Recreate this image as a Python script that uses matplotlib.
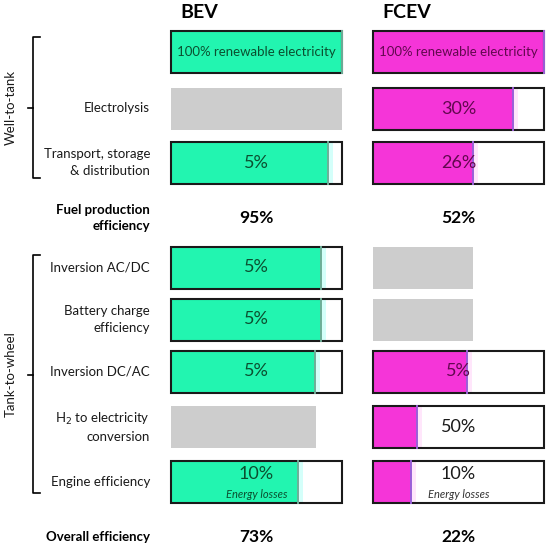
import matplotlib
matplotlib.use("Agg")
import matplotlib.pyplot as plt
from matplotlib.patches import Rectangle

plt.rcParams['font.family'] = ['Lato', 'DejaVu Sans']

# process steps, top to bottom
steps = ["", "Electrolysis", "Transport, storage\n& distribution",
         "Inversion AC/DC", "Battery charge\nefficiency", "Inversion DC/AC",
         "H$_2$ to electricity\nconversion", "Engine efficiency"]

# share of the energy left after each step (as drawn)
bev_left = [1.00, 1.00, 0.92, 0.88, 0.88, 0.845, 0.85, 0.745]
fcev_left = [1.00, 0.82, 0.585, 0.585, 0.585, 0.55, 0.257, 0.224]

# does the step apply to the vehicle
bev_used = [True, False, True, True, True, True, False, True]
fcev_used = [True, True, True, False, False, True, True, True]

# losses written in the boxes
bev_loss = ["100% renewable electricity", "", "5%", "5%", "5%", "5%", "", "10%"]
fcev_loss = ["100% renewable electricity", "30%", "26%", "", "", "5%", "50%", "10%"]

summary_labels = ["Fuel production\nefficiency", "Overall efficiency"]
bev_summary = ["95%", "73%"]
fcev_summary = ["52%", "22%"]

groups = ["Well-to-tank", "Tank-to-wheel"]
vehicles = ["BEV", "FCEV"]

# layout (pixels)
W, H = 550, 549
row_y = [52, 108.5, 162.5, 267.5, 319.5, 371.5, 427, 482]
summary_y = [218, 537]
box_h = 42
cols = [171, 373]
box_w = 171
green = "#22f5b0"
magenta = "#f535d8"
gray = "#cdcdcd"

fig = plt.figure(figsize=(W / 100, H / 100), dpi=100)
ax = fig.add_axes([0, 0, 1, 1])
ax.set_xlim(0, W)
ax.set_ylim(H, 0)
ax.axis('off')


def draw_column(x0, left, used, loss, fill, text_col, glow, edge):
    for i in range(len(steps)):
        y0 = row_y[i] - box_h / 2
        if not used[i]:
            # step not part of this chain: grey block at the previous level
            ax.add_patch(Rectangle((x0, y0), box_w * left[i], box_h,
                                   facecolor=gray, edgecolor='none'))
            continue
        ax.add_patch(Rectangle((x0, y0), box_w, box_h, facecolor='white',
                               edgecolor='none'))
        fw = box_w * left[i]
        if left[i] < 1:
            ax.add_patch(Rectangle((x0 + fw, y0), 5, box_h, facecolor=glow,
                                   edgecolor='none'))
        ax.add_patch(Rectangle((x0, y0), fw, box_h, facecolor=fill,
                               edgecolor='none'))
        ax.plot([x0 + fw, x0 + fw], [y0, y0 + box_h], color=edge, lw=1.4)
        ax.add_patch(Rectangle((x0, y0), box_w, box_h, facecolor='none',
                               edgecolor='#1a1a1a', lw=1.5))
        cx = x0 + box_w / 2
        inside = (cx < x0 + fw)
        col = text_col if inside else '#1a1a1a'
        if i == 0:
            ax.text(cx, row_y[i], loss[i], ha='center', va='center',
                    fontsize=9.5, color=text_col)
        elif i == len(steps) - 1:
            ax.text(cx, row_y[i] - 8, loss[i], ha='center', va='center',
                    fontsize=13, color=col)
            ax.text(cx, row_y[i] + 12, "Energy losses", ha='center',
                    va='center', fontsize=8, style='italic',
                    color=text_col if cx - 40 < x0 + fw else '#333333')
        else:
            ax.text(cx, row_y[i], loss[i], ha='center', va='center',
                    fontsize=13, color=col)


draw_column(cols[0], bev_left, bev_used, bev_loss, green, '#0b4f30',
            '#d4fffa', '#6fae98')
draw_column(cols[1], fcev_left, fcev_used, fcev_loss, magenta, '#62084f',
            '#ffe6fb', '#9a60d8')

# step labels
for i, s in enumerate(steps):
    if s:
        ax.text(150, row_y[i], s, ha='right', va='center', fontsize=9.5,
                color='#1a1a1a', linespacing=1.45)

# summary lines
for j, s in enumerate(summary_labels):
    ax.text(150, summary_y[j], s, ha='right', va='center', fontsize=9.5,
            fontweight='bold', color='black', linespacing=1.4)
    ax.text(cols[0] + box_w / 2, summary_y[j], bev_summary[j], ha='center',
            va='center', fontsize=12.5, fontweight='bold')
    ax.text(cols[1] + box_w / 2, summary_y[j], fcev_summary[j], ha='center',
            va='center', fontsize=12.5, fontweight='bold')

# headers
for k, v in enumerate(vehicles):
    ax.text(cols[k] + 9, 12, v, ha='left', va='center', fontsize=14,
            fontweight='bold')

# brackets
brackets = [(37, 178, 108), (255, 493, 375)]
for (top, bot, tip), g in zip(brackets, groups):
    ax.plot([40, 33, 33, 40], [top, top, bot, bot], color='black', lw=1.2)
    ax.plot([33, 28], [tip, tip], color='black', lw=1.2)
    ax.text(11, (top + bot) / 2, g, rotation=90, ha='center', va='center',
            fontsize=9.5, color='#1a1a1a')

fig.savefig("out.png", dpi=100)
